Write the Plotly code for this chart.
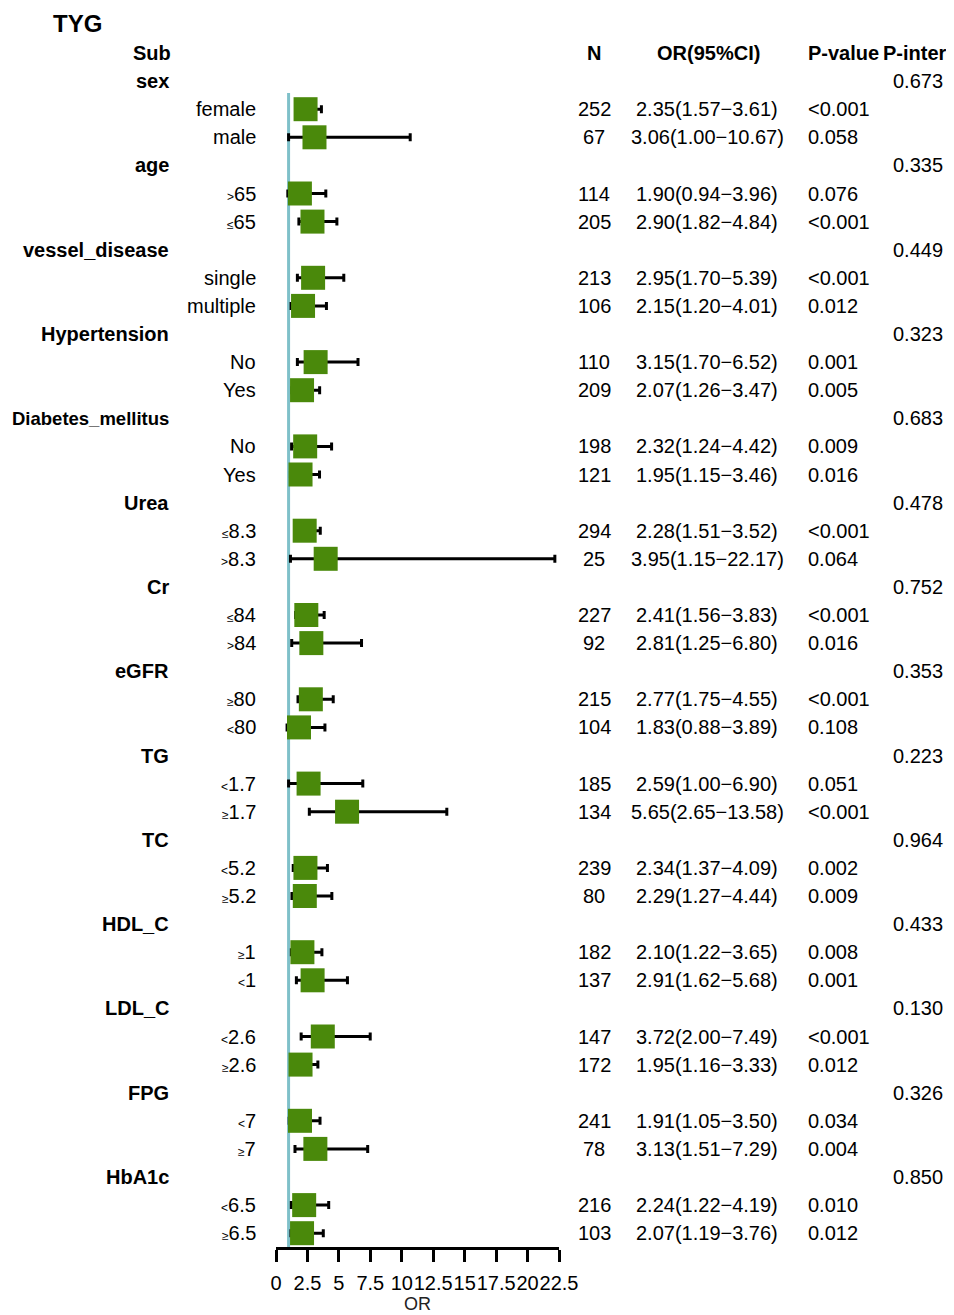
import plotly.graph_objects as go

# ---------------- data ----------------
groups = ["sex", "age", "vessel_disease", "Hypertension", "Diabetes_mellitus", "Urea",
          "Cr", "eGFR", "TG", "TC", "HDL_C", "LDL_C", "FPG", "HbA1c"]
p_inter = ["0.673", "0.335", "0.449", "0.323", "0.683", "0.478",
           "0.752", "0.353", "0.223", "0.964", "0.433", "0.130", "0.326", "0.850"]

sub_prefix = ["", "", ">", "≤", "", "", "", "", "", "", "≤", ">", "≤", ">", "≥", "<",
              "<", "≥", "<", "≥", "≥", "<", "<", "≥", "<", "≥", "<", "≥"]
sub_names = ["female", "male", "65", "65", "single", "multiple", "No", "Yes", "No", "Yes",
             "8.3", "8.3", "84", "84", "80", "80", "1.7", "1.7", "5.2", "5.2",
             "1", "1", "2.6", "2.6", "7", "7", "6.5", "6.5"]
n_vals = [252, 67, 114, 205, 213, 106, 110, 209, 198, 121, 294, 25, 227, 92, 215, 104,
          185, 134, 239, 80, 182, 137, 147, 172, 241, 78, 216, 103]
or_vals = [2.35, 3.06, 1.90, 2.90, 2.95, 2.15, 3.15, 2.07, 2.32, 1.95, 2.28, 3.95, 2.41, 2.81,
           2.77, 1.83, 2.59, 5.65, 2.34, 2.29, 2.10, 2.91, 3.72, 1.95, 1.91, 3.13, 2.24, 2.07]
lo_vals = [1.57, 1.00, 0.94, 1.82, 1.70, 1.20, 1.70, 1.26, 1.24, 1.15, 1.51, 1.15, 1.56, 1.25,
           1.75, 0.88, 1.00, 2.65, 1.37, 1.27, 1.22, 1.62, 2.00, 1.16, 1.05, 1.51, 1.22, 1.19]
hi_vals = [3.61, 10.67, 3.96, 4.84, 5.39, 4.01, 6.52, 3.47, 4.42, 3.46, 3.52, 22.17, 3.83, 6.80,
           4.55, 3.89, 6.90, 13.58, 4.09, 4.44, 3.65, 5.68, 7.49, 3.33, 3.50, 7.29, 4.19, 3.76]
p_vals = ["<0.001", "0.058", "0.076", "<0.001", "<0.001", "0.012", "0.001", "0.005", "0.009",
          "0.016", "<0.001", "0.064", "<0.001", "0.016", "<0.001", "0.108", "0.051", "<0.001",
          "0.002", "0.009", "0.008", "0.001", "<0.001", "0.012", "0.034", "0.004", "0.010", "0.012"]

x_ticks = [0, 2.5, 5, 7.5, 10, 12.5, 15, 17.5, 20, 22.5]
x_tick_labels = ["0", "2.5", "5", "7.5", "10", "12.5", "15", "17.5", "20", "22.5"]
headers = ["Sub", "N", "OR(95%CI)", "P-value", "P-inter"]

# ---------------- layout helpers ----------------
OFF = 8                        # page body margin
W, H = 954 - OFF, 1315 - OFF
FONT = "Liberation Sans, Arial, sans-serif"
FS = 20
ROW0, ROWH = 53 - OFF, 28.1    # pixel y of first row, row height
AXIS_Y = 1247 - OFF            # pixel y of x-axis line
XL, XR = 276 - OFF, 559 - OFF  # pixels of x=0 and x=22.5

def px(x):
    return (x - OFF) / W

group_rows, sub_rows = [], []
r = 1
for gi in range(len(groups)):
    group_rows.append(r)
    sub_rows.extend([r + 1, r + 2])
    r += 3

fig = go.Figure()

fig.add_trace(go.Scatter(
    x=or_vals, y=sub_rows, mode="markers",
    marker=dict(symbol="square", size=24, color="#4a890b", line=dict(width=0)),
    error_x=dict(type="data", symmetric=False,
                 array=[h - o for h, o in zip(hi_vals, or_vals)],
                 arrayminus=[o - l for o, l in zip(or_vals, lo_vals)],
                 color="black", thickness=3, width=4),
    showlegend=False, hoverinfo="skip", cliponaxis=False))

fig.add_shape(type="line", x0=1, x1=1, xref="x", y0=sub_rows[0] - 0.58,
              y1=(AXIS_Y - ROW0) / ROWH, yref="y", layer="below",
              line=dict(color="#7fc0c9", width=3))

ann = []
def txt(x, y, s, anchor, size=FS, bold=False):
    ann.append(dict(x=px(x), xref="paper", y=y, yref="y",
                    text=("<b>%s</b>" % s) if bold else s,
                    showarrow=False, xanchor=anchor, yanchor="middle",
                    font=dict(family=FONT, size=size, color="black")))

ann.append(dict(x=px(51), xref="paper", y=1.0, yref="paper", text="<b>TYG</b>",
                showarrow=False, xanchor="left", yanchor="top",
                font=dict(family=FONT, size=24, color="black")))

txt(173, 0, headers[0], "right", bold=True)
txt(594, 0, headers[1], "center", bold=True)
txt(708, 0, headers[2], "center", bold=True)
txt(806, 0, headers[3], "left", bold=True)
txt(915, 0, headers[4], "center", bold=True)

for g, p, rr in zip(groups, p_inter, group_rows):
    gsize = 18.5 if len(g) > 15 else FS
    txt(171, rr, g, "right", size=gsize, bold=True)
    txt(918, rr, p, "center")

for i, rr in enumerate(sub_rows):
    pre = sub_prefix[i]
    lab = ("<span style='font-size:12px'>%s</span>" % pre if pre else "") + sub_names[i]
    txt(258, rr, lab, "right")
    txt(594, rr, str(n_vals[i]), "center")
    txt(707, rr, "%.2f(%.2f\u2212%.2f)" % (or_vals[i], lo_vals[i], hi_vals[i]), "center")
    txt(806, rr, p_vals[i], "left")

fig.update_layout(
    width=W, height=H, autosize=False,
    margin=dict(l=0, r=0, t=0, b=0, pad=0, autoexpand=False),
    paper_bgcolor="white", plot_bgcolor="white",
    annotations=ann,
    xaxis=dict(domain=[XL / W, XR / W], range=[0, 22.5], tickmode="array",
               tickvals=x_ticks, ticktext=x_tick_labels, tickangle=0, automargin=False,
               showgrid=False, zeroline=False, showline=True, linecolor="black",
               linewidth=3, ticks="outside", ticklen=12, tickwidth=3, tickcolor="black",
               ticklabelstandoff=4,
               tickfont=dict(family=FONT, size=FS, color="black"),
               title=dict(text="OR", font=dict(family=FONT, size=18, color="#222"), standoff=0)),
    yaxis=dict(domain=[1 - AXIS_Y / H, 1], automargin=False,
               range=[(AXIS_Y - ROW0) / ROWH, -ROW0 / ROWH],
               visible=False, showgrid=False, zeroline=False),
)

fig.write_html("out.html")
